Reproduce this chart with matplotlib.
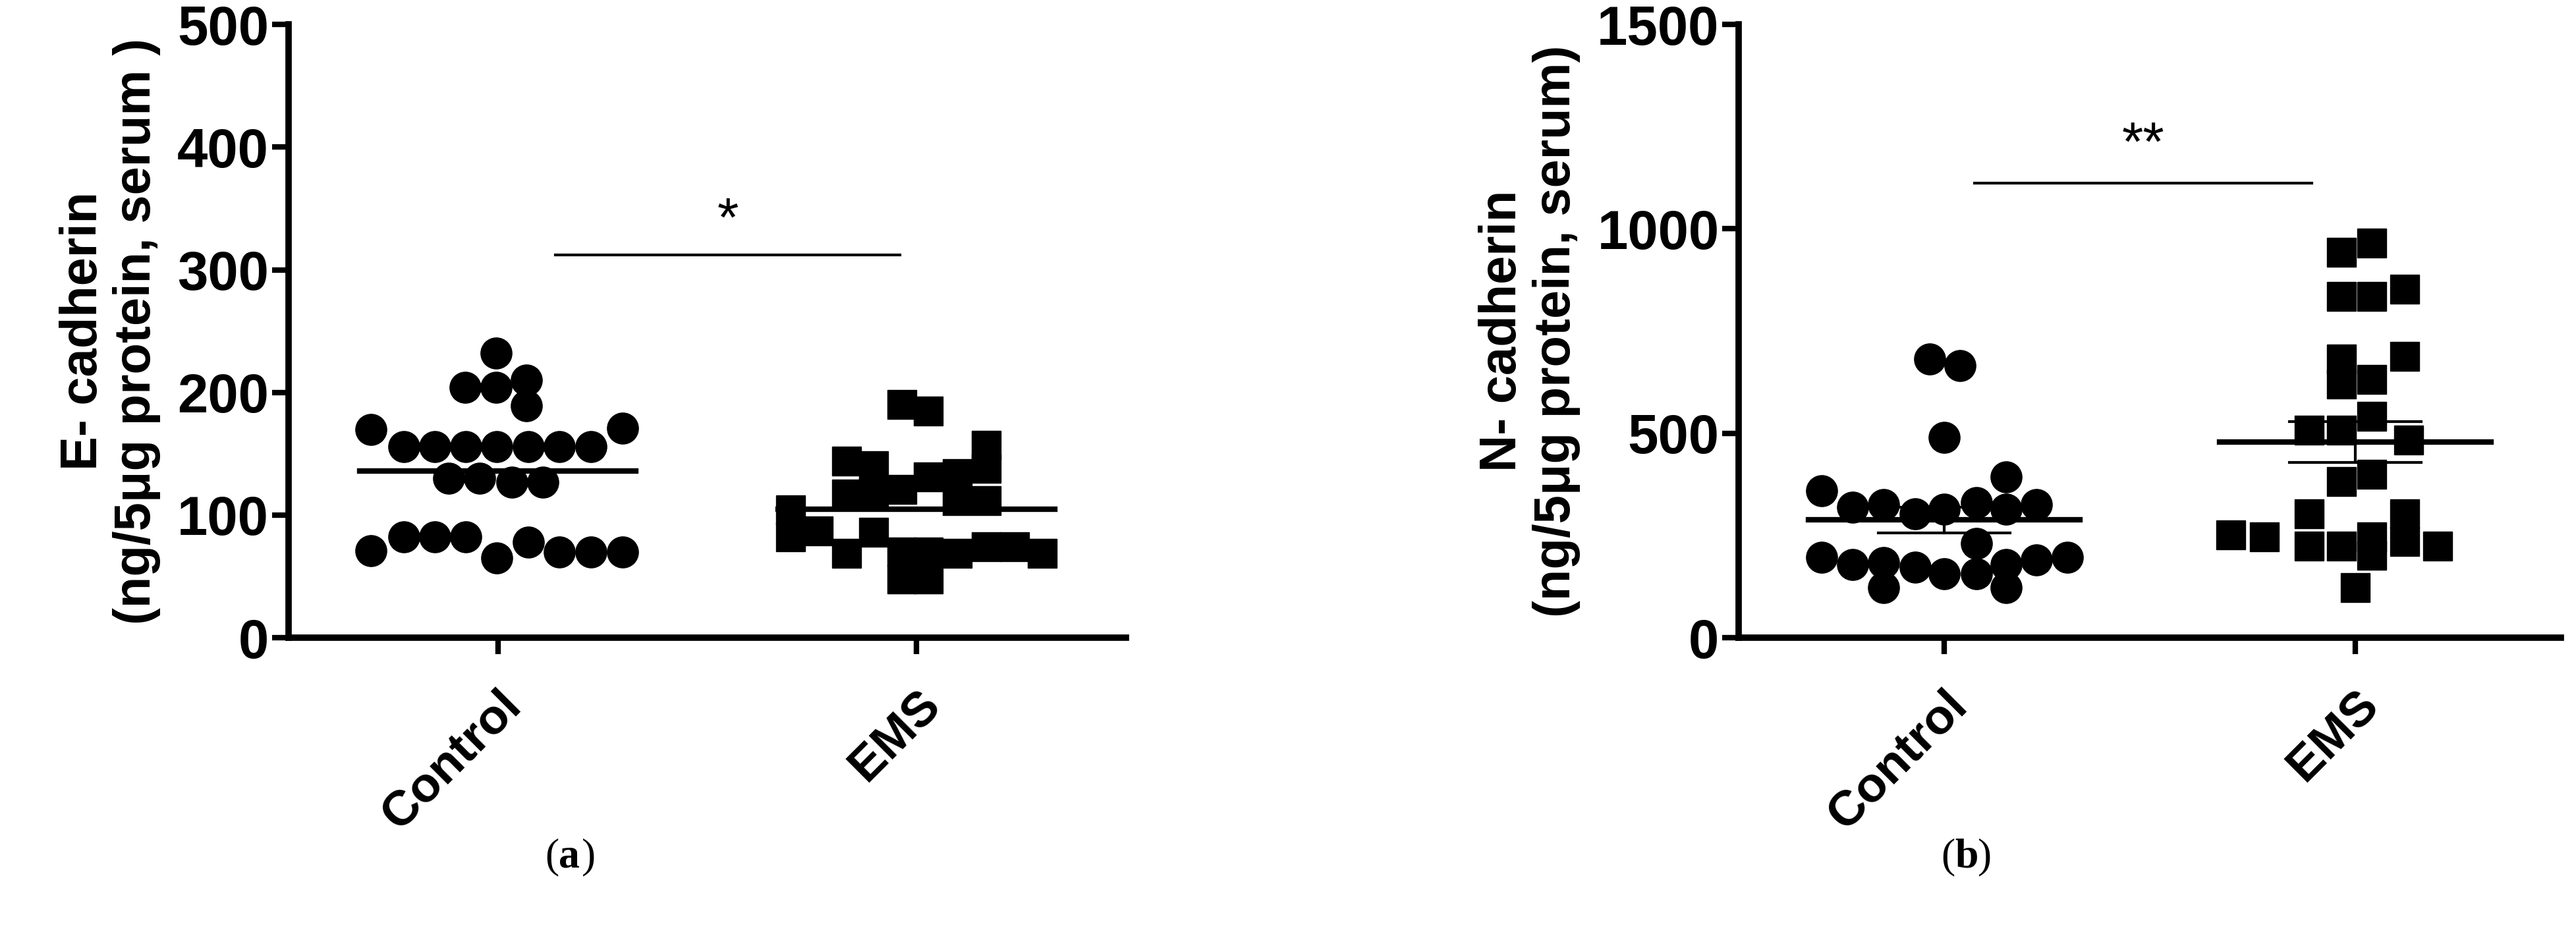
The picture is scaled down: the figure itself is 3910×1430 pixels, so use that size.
import matplotlib
matplotlib.use('Agg')
import matplotlib.pyplot as plt
import numpy

# panel (a): E-cadherin, (x offset within group, value)
e_ctrl_dx = [-0.004, -0.078, -0.004, 0.069, 0.069, -0.303, 0.298,
             -0.225, -0.151, -0.076, -0.002, 0.073, 0.147, 0.222,
             -0.118, -0.043, 0.033, 0.108,
             -0.225, -0.151, -0.076, 0.073, -0.303, -0.002, 0.147, 0.222, 0.298]
e_ctrl = [232, 204, 204, 210, 189, 170, 171,
          156, 156, 156, 156, 156, 156, 156,
          130, 130, 127, 127,
          82, 82, 82, 78, 71, 65, 70, 70, 70]
e_ems_dx = [-0.035, 0.029, 0.167, -0.167, -0.102, 0.167, 0.029, 0.098,
            -0.167, -0.102, -0.035, 0.098, 0.167, -0.300, -0.300, -0.235,
            -0.102, -0.167, -0.035, 0.029, 0.098, 0.167, 0.235, 0.300,
            -0.035, 0.029]
e_ems = [190, 185, 157, 144, 140, 138, 131, 134,
         117, 119, 121, 112, 112, 104, 82, 87,
         86, 69, 70, 70, 69, 74, 74, 69,
         48, 48]
e_means = [136, 105]

# panel (b): N-cadherin
n_ctrl_dx = [-0.036, 0.038, 0.0, 0.151, -0.298, -0.223, -0.147, -0.070,
             0.0, 0.078, 0.151, 0.225, 0.078, -0.298, -0.223, -0.147,
             -0.070, 0.0, 0.078, 0.151, 0.225, 0.300, -0.147, 0.151]
n_ctrl = [682, 665, 490, 394, 360, 320, 326, 303,
          314, 331, 314, 326, 230, 196, 179, 184,
          173, 156, 156, 179, 190, 196, 122, 122]
n_ems_dx = [-0.034, 0.040, -0.034, 0.040, 0.121, -0.034, 0.121, -0.034,
            0.040, 0.040, -0.111, -0.034, 0.131, 0.040, -0.034, -0.111,
            0.121, -0.302, -0.221, -0.111, -0.034, 0.040, 0.040, 0.121,
            0.201, 0.0]
n_ems = [942, 965, 835, 835, 852, 682, 688, 620,
         631, 541, 507, 507, 484, 399, 382, 303,
         303, 252, 247, 224, 224, 201, 247, 235,
         224, 122]
n_means = [288, 478]
n_sem = [[256, 320], [428, 529]]

groups = ['Control', 'EMS']

sans = ['Liberation Sans', 'DejaVu Sans']


def style_axes(ax, ymax, step, ylabel):
    ax.set_xlim(-0.5, 1.5)
    ax.set_ylim(0, ymax)
    ax.set_yticks(numpy.arange(0, ymax + 1, step))
    ax.set_xticks([0, 1])
    for s in ['top', 'right']:
        ax.spines[s].set_visible(False)
    for s in ['left', 'bottom']:
        ax.spines[s].set_linewidth(7)
    ax.tick_params(width=6, length=18)
    ax.tick_params(axis='x', pad=30)
    ax.set_yticklabels([str(int(v)) for v in ax.get_yticks()],
                       fontsize=60, weight='bold', family=sans, stretch='condensed')
    ax.set_xticklabels(groups, rotation=45, ha='right', rotation_mode='anchor',
                       fontsize=54, weight='bold', family=sans)
    ax.set_ylabel(ylabel, fontsize=56, weight='bold', linespacing=1.15,
                  family=sans, labelpad=18)


def draw_group(ax, pos, dx, vals, marker, ms):
    ax.plot(pos + numpy.array(dx), vals, linestyle='none', marker=marker,
            markersize=ms, color='black', clip_on=False, zorder=3)


fig = plt.figure(figsize=(39.1, 14.3), dpi=100)
ax1 = fig.add_axes([0.112, 0.323, 0.325, 0.651])
ax2 = fig.add_axes([0.675, 0.323, 0.319, 0.651])

# (a)
draw_group(ax1, 0, e_ctrl_dx, e_ctrl, 'o', 34)
draw_group(ax1, 1, e_ems_dx, e_ems, 's', 31)
for i, m in enumerate(e_means):
    ax1.plot([i - 0.33, i + 0.33], [m, m], color='black', lw=6, zorder=4)
ax1.plot([0.137, 0.96], [312, 312], color='black', lw=3)
ax1.text(0.55, 318, '*', ha='center', va='bottom', fontsize=60, family=sans)
style_axes(ax1, 500, 100, 'E- cadherin\n(ng/5\u03bcg protein, serum )')

# (b)
draw_group(ax2, 0, n_ctrl_dx, n_ctrl, 'o', 34)
draw_group(ax2, 1, n_ems_dx, n_ems, 's', 31)
for i, m in enumerate(n_means):
    ax2.plot([i - 0.33, i + 0.33], [m, m], color='black', lw=6, zorder=4)
    lo, hi = n_sem[i]
    ax2.plot([i, i], [lo, hi], color='black', lw=3, zorder=4)
    for v in (lo, hi):
        ax2.plot([i - 0.16, i + 0.16], [v, v], color='black', lw=3, zorder=4)
ax2.plot([0.074, 0.895], [1112, 1112], color='black', lw=3)
ax2.text(0.485, 1140, '**', ha='center', va='bottom', fontsize=60, family=sans)
style_axes(ax2, 1500, 500, 'N- cadherin\n(ng/5\u03bcg protein, serum)')

for x, lab in [(0.217, 'a'), (0.759, 'b')]:
    fig.text(x, 0.09, '(', ha='right', va='center', fontsize=46, family='Liberation Serif')
    fig.text(x, 0.09, lab, ha='left', va='center', fontsize=46, family='Liberation Serif',
             weight='bold')
    fig.text(x + 0.0088, 0.09, ')', ha='left', va='center', fontsize=46,
             family='Liberation Serif')

fig.savefig('out.png', dpi=100)
